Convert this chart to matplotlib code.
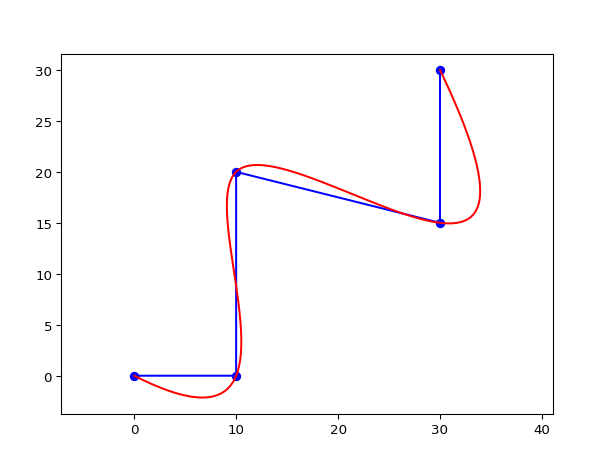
import numpy as np
import matplotlib
matplotlib.use('Agg')
import matplotlib.pyplot as plt

# control points
px = [0, 10, 10, 30, 30]
py = [0, 0, 20, 15, 30]

# interpolating cubic spline through the points, chord length parameter,
# one interior knot (same as splprep with k=3, s=0)
x = np.array(px, dtype=float)
y = np.array(py, dtype=float)
d = np.sqrt(np.diff(x)**2 + np.diff(y)**2)
u = np.concatenate([[0], np.cumsum(d)]) / d.sum()
knot = u[2]

def basis(t):
    t = np.asarray(t, dtype=float)
    return np.stack([np.ones_like(t), t, t**2, t**3,
                     np.clip(t - knot, 0, None)**3], axis=-1)

A = basis(u)
cx = np.linalg.solve(A, x)
cy = np.linalg.solve(A, y)
tt = np.linspace(0, 1, 400)
B = basis(tt)
sx = B @ cx
sy = B @ cy

fig = plt.figure(figsize=(6.4, 4.8), dpi=96)
ax = fig.add_axes([0.1, 0.1, 0.8, 0.782])
ax.plot(px, py, 'bo')
ax.plot(px, py, 'b-')
ax.plot(sx, sy, 'r-')
ax.axis('equal')
plt.savefig('out.png', dpi=96)
